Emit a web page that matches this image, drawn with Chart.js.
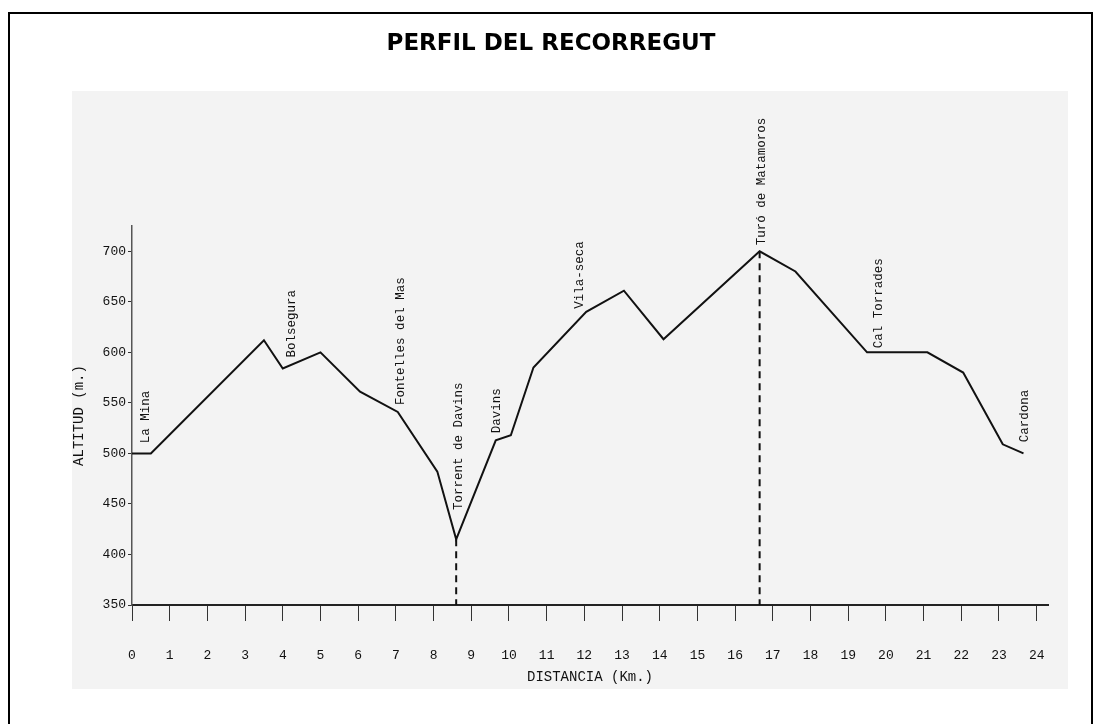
<!DOCTYPE html>
<html>
<head>
<meta charset="utf-8">
<script src="https://cdn.jsdelivr.net/npm/chart.js@4"></script>
<style>
  html, body { margin: 0; padding: 0; background: #fff; }
  #wrap { width: 1101px; height: 724px; }
</style>
</head>
<body>
<div id="wrap"><canvas id="profileChart" width="1101" height="724"></canvas></div>
<script>
// perfil: distancia (km) i altitud (m)
const distKm = [0, 0.5, 3.5, 4.0, 5.0, 6.05, 7.05, 8.1, 8.6, 9.65, 10.05, 10.65, 12.05, 13.05, 14.1, 16.65, 17.6, 19.5, 21.1, 22.05, 23.1, 23.65];
const altitud = [500, 500, 612, 584, 600, 561, 541, 482, 415, 513, 518, 585, 640, 661, 613, 700, 680, 600, 600, 580, 509, 500];

// punts amb linia discontinua
const dashKm = [8.6, 16.65];
const dashAlt = [415, 700];

// noms de lloc i on comença el text (km, m)
const placeNames = ['La Mina', 'Bolsegura', 'Fontelles del Mas', 'Torrent de Davins', 'Davins', 'Vila-seca', 'Turó de Matamoros', 'Cal Torrades', 'Cardona'];
const placeKm = [0.37, 4.24, 7.14, 8.67, 9.68, 11.88, 16.71, 19.81, 23.69];
const placeAlt = [510, 595, 548, 444, 520, 643, 706, 604, 511];

const kmTicks = [0, 1, 2, 3, 4, 5, 6, 7, 8, 9, 10, 11, 12, 13, 14, 15, 16, 17, 18, 19, 20, 21, 22, 23, 24];
const altTicks = [350, 400, 450, 500, 550, 600, 650, 700];

const monoFont = "'Liberation Mono', 'DejaVu Sans Mono', monospace";

const pagePlugin = {
    id: 'page',
    beforeDraw(chart) {
        const ctx = chart.ctx;
        ctx.save();
        ctx.fillStyle = '#fff';
        ctx.fillRect(0, 0, chart.width, chart.height);
        // marc
        ctx.strokeStyle = '#000';
        ctx.lineWidth = 2;
        ctx.beginPath();
        ctx.moveTo(9, chart.height + 2);
        ctx.lineTo(9, 13);
        ctx.lineTo(1092, 13);
        ctx.lineTo(1092, chart.height + 2);
        ctx.stroke();
        // fons escanejat
        ctx.fillStyle = '#f3f3f3';
        ctx.fillRect(72, 91, 996, 598);
        // titol
        ctx.fillStyle = '#000';
        ctx.font = "bold 23px 'DejaVu Sans', Verdana, sans-serif";
        ctx.textAlign = 'center';
        ctx.textBaseline = 'alphabetic';
        ctx.fillText('PERFIL DEL RECORREGUT', 551, 50);
        ctx.restore();
    },
    afterDatasetsDraw(chart) {
        const ctx = chart.ctx;
        const xs = chart.scales.x, ys = chart.scales.y;
        ctx.save();
        ctx.fillStyle = '#111';
        ctx.font = '12.5px ' + monoFont;
        ctx.textAlign = 'left';
        ctx.textBaseline = 'middle';
        placeNames.forEach((name, i) => {
            const px = xs.getPixelForValue(placeKm[i]);
            const py = ys.getPixelForValue(placeAlt[i]);
            ctx.save();
            ctx.translate(px, py);
            ctx.rotate(-Math.PI / 2);
            ctx.fillText(name, 0, 0);
            ctx.restore();
        });
        ctx.restore();
    }
};

const profile = distKm.map((d, i) => ({ x: d, y: altitud[i] }));
const dashSets = dashKm.map((d, i) => ({
    data: [{ x: d, y: dashAlt[i] }, { x: d, y: 350 }],
    borderColor: '#111',
    borderWidth: 2,
    borderDash: [7, 5],
    pointRadius: 0,
    clip: false
}));

new Chart(document.getElementById('profileChart').getContext('2d'), {
    type: 'line',
    data: {
        datasets: [{
            data: profile,
            borderColor: '#111',
            borderWidth: 2,
            pointRadius: 0,
            tension: 0,
            clip: false
        }, ...dashSets]
    },
    plugins: [pagePlugin],
    options: {
        responsive: false,
        animation: false,
        layout: { padding: { top: 226, right: 53, bottom: 0, left: 0 } },
        plugins: {
            legend: { display: false },
            tooltip: { enabled: false },
            title: { display: false }
        },
        scales: {
            x: {
                type: 'linear',
                min: 0,
                max: 24.3,
                afterFit(scale) { scale.height = 119; },
                afterBuildTicks(scale) { scale.ticks = kmTicks.map(v => ({ value: v })); },
                border: { display: true, color: '#222', width: 2 },
                grid: { drawOnChartArea: false, drawTicks: true, tickLength: 16, color: '#333', lineWidth: 1 },
                ticks: { color: '#111', font: { family: monoFont, size: 13 }, padding: 27, maxRotation: 0, autoSkip: false },
                title: { display: true, text: 'DISTANCIA (Km.)', color: '#111', font: { family: monoFont, size: 14 }, padding: { top: 0, bottom: 38 } }
            },
            y: {
                min: 350,
                max: 725,
                afterFit(scale) { scale.width = 132; },
                afterBuildTicks(scale) { scale.ticks = altTicks.map(v => ({ value: v })); },
                border: { display: true, color: '#555', width: 1.5 },
                grid: { drawOnChartArea: false, drawTicks: true, tickLength: 4, color: '#333', lineWidth: 1 },
                ticks: { color: '#111', font: { family: monoFont, size: 13 }, padding: 2 },
                title: { display: true, text: 'ALTITUD (m.)', color: '#111', font: { family: monoFont, size: 14 }, padding: { top: 71, bottom: 0 } }
            }
        }
    }
});
</script>
</body>
</html>
